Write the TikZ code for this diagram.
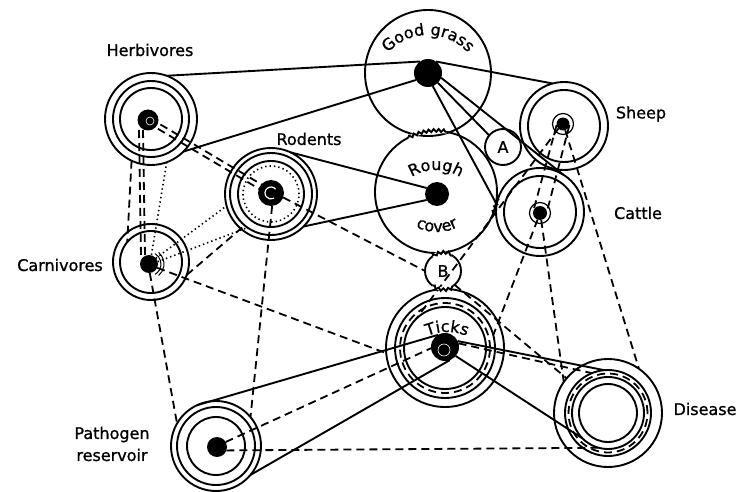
\documentclass[tikz,border=0pt]{standalone}
\usepackage{fontspec}
\newfontfamily\lab[FakeBold=1]{DejaVu Sans}
\usetikzlibrary{calc,decorations.text,decorations.pathmorphing}
\pgfdeclarelayer{back}
\pgfdeclarelayer{bg}
\pgfsetlayers{back,bg,main}
\begin{document}
\begin{tikzpicture}[x=1pt,y=1pt,
  every node/.style={inner sep=0pt, outer sep=0pt},
  ring/.style={circle, draw, line width=1.9pt, minimum size=#1},
  thinring/.style={circle, draw, line width=1.2pt, minimum size=#1},
  dotn/.style={circle, fill=black, minimum size=#1},
  belt/.style={line width=1.9pt},
  dsh/.style={line width=1.8pt, dash pattern=on 8pt off 5pt},
  dtt/.style={line width=1.6pt, dash pattern=on 1.4pt off 3pt},
  lbl/.style={font=\lab\fontsize{16}{22}\selectfont, align=center},
  gear/.style={line width=1.9pt, decorate, decoration={snake, amplitude=1.4pt, segment length=5pt}},
]
\useasboundingbox (0,0) rectangle (739,-492);
\begin{pgfonlayer}{back}
\fill[white] (0,0) rectangle (739,-492);
\end{pgfonlayer}

% Good grass and rough cover
\node[ring=126pt] (gg) at (428,-73) {};
\node[dotn=28pt] (ggd) at (428,-73) {};
\node[ring=122pt] (rc) at (436,-192) {};
\node[dotn=24pt] (rcd) at (437,-194) {};
\node[ring=36pt, lbl] (A) at (503,-147) {A};
\node[ring=36pt, lbl] (B) at (443,-271) {B};

% Sheep and cattle
\node[ring=88pt] (sh) at (564,-126) {};
\node[ring=72pt] (sh2) at (564,-126) {};
\node[thinring=21pt] (shr) at (563,-124) {};
\node[dotn=13pt] (shd) at (563,-124) {};
\node[ring=88pt] (ca) at (540,-212) {};
\node[ring=72pt] (ca2) at (540,-212) {};
\node[thinring=21pt] (car) at (540,-213) {};
\node[dotn=14pt] (cad) at (540,-213) {};

% Herbivores
\node[ring=92pt] (he) at (151,-119) {};
\node[ring=76pt] (he2) at (151,-119) {};
\node[ring=62pt] (he3) at (151,-119) {};
\node[dotn=21pt] (hed) at (148,-120) {};

% Rodents
\node[ring=92pt] (ro) at (271,-194) {};
\node[ring=82pt] (ro2) at (271,-194) {};
\node[ring=66pt] (ro3) at (271,-194) {};
\node[circle, draw, dtt, minimum size=56pt] (ro4) at (271,-194) {};
\node[dotn=26pt] (rod) at (271,-193) {};

% Carnivores
\node[ring=76pt] (cn) at (151,-262) {};
\node[ring=62pt] (cn2) at (151,-262) {};
\node[dotn=18pt] (cnd) at (149,-264) {};

% Ticks
\node[ring=118pt] (ti) at (445,-348) {};
\node[ring=100pt] (ti2) at (445,-348) {};
\node[circle, draw, dsh, minimum size=90pt] (ti4) at (445,-348) {};
\node[ring=82pt] (ti3) at (445,-348) {};
\node[dotn=28pt] (tid) at (445,-347) {};

% Disease
\node[ring=108pt] (di) at (608,-413) {};
\node[ring=86pt] (di2) at (608,-413) {};
\node[circle, draw, dsh, minimum size=79pt] (di5) at (608,-413) {};
\node[ring=72pt] (di3) at (608,-413) {};
\node[ring=58pt] (di4) at (608,-413) {};

% Pathogen reservoir
\node[ring=90pt] (pa) at (216,-446) {};
\node[ring=78pt] (pa2) at (216,-446) {};
\node[ring=58pt] (pa3) at (216,-446) {};
\node[dotn=20pt] (pad) at (217,-447) {};

% gear contacts
\draw[white, line width=3.4pt] (rc.center) ++(117:61pt) arc[start angle=117, end angle=80, radius=61pt];
\draw[gear] (rc.center) ++(117:61pt) arc[start angle=117, end angle=80, radius=61pt];
\draw[white, line width=3.4pt] (B.center) ++(125:18pt) arc[start angle=125, end angle=55, radius=18pt];
\draw[gear] (B.center) ++(125:18pt) arc[start angle=125, end angle=55, radius=18pt];
\draw[white, line width=3.4pt] (B.center) ++(235:18pt) arc[start angle=235, end angle=305, radius=18pt];
\draw[gear] (B.center) ++(235:18pt) arc[start angle=235, end angle=305, radius=18pt];
\draw[gear] (rc.center) ++(-20:61pt) arc[start angle=-20, end angle=-5, radius=61pt];

% labels
\node[lbl] (hlab) at (150,-50) {Herbivores};
\node[lbl] (rlab) at (309,-139) {Rodents};
\node[lbl] (clab) at (60,-265) {Carnivores};
\node[lbl] (slab) at (641,-114) {Sheep};
\node[lbl] (calab) at (638,-213) {Cattle};
\node[lbl] (dlab) at (705,-409) {Disease};
\node[lbl] (plab) at (112,-444) {Pathogen\\reservoir};

\path[decorate, decoration={text along path, text align=center,
  text={|\lab\fontsize{16}{18}\selectfont|Good grass}}]
  (428,-89) ++(160:54pt) arc[start angle=160, end angle=20, radius=54pt];
\path[decorate, decoration={text along path, text align=center,
  text={|\lab\fontsize{16}{18}\selectfont|Rough}}]
  (436,-215) ++(150:45pt) arc[start angle=150, end angle=30, radius=45pt];
\path[decorate, decoration={text along path, text align=center,
  text={|\lab\fontsize{16}{18}\selectfont|cover}}]
  (437,-187) ++(220:45pt) arc[start angle=220, end angle=320, radius=45pt];
\path[decorate, decoration={text along path, text align=center,
  text={|\lab\fontsize{16}{18}\selectfont|Ticks}}]
  (447,-382) ++(140:50pt) arc[start angle=140, end angle=40, radius=50pt];

\begin{pgfonlayer}{bg}
% solid belts
\draw[belt] (ggd.125) -- (he.70);
\draw[belt] (ggd.210) -- (he.-45);
\draw[belt] (ggd.55) -- (sh.105);
\draw[belt] (ggd.-20) -- (ca.58);
\draw[belt] (ggd.-45) -- (A.140);
\draw[belt] (ggd.-70) -- (ca.170);
\draw[belt] (rcd.150) -- (ro.65);
\draw[belt] (rcd.-150) -- (ro.-45);
\draw[belt] (tid.120) -- (pa.115);
\draw[belt] (tid.-70) -- (pa.-40);
\draw[belt] (tid.25) -- (di2.95);
\draw[belt] (tid.-40) -- (di3.225);

% dashed links
\draw[dsh] ($(hed)!2.5pt!90:(rod)$) -- ($(rod)!2.5pt!-90:(hed)$);
\draw[dsh] ($(hed)!2.5pt!-90:(rod)$) -- ($(rod)!2.5pt!90:(hed)$);
\draw[dsh] (rod.-20) -- (B.180);
\draw[dsh] (he.-115) -- (cn2.140);
\draw[dsh] ($(hed)+(-9,-10)$) -- ($(cnd)+(-8,8)$);
\draw[dsh] ($(hed)+(-5,-10)$) -- ($(cnd)+(-4,8)$);
\draw[dsh] (cn.-20) -- (ro2.230);
\draw[dsh] (cnd.-25) -- (ti.185);
\draw[dsh] (cnd.-85) -- (pa.150);
\draw[dsh] (rod.-85) -- (pa.40);
\draw[dsh] (pad.30) -- (tid.185);
\draw[dsh] (pad.-20) -- (di3.-105);
\draw[dsh] (shd.190) -- (cad.170);
\draw[dsh] (shd.-10) -- (cad.10);
\draw[dsh] (shd.225) -- (ti3.135);
\draw[dsh] (shd.-70) -- (di.55);
\draw[dsh] (cad.-80) -- (di.145);
\draw[dsh] (cad.-110) -- (ti2.15);
\draw[dsh] (B.-50) -- (di.140);
\draw[dsh] (tid.15) -- (di2.112);

% dotted links
\draw[dtt] (he.-70) -- (cnd.75);
\draw[dtt] (cnd.40) -- (ro.195);
\draw[dtt] (cnd.15) -- (ro2.235);
\end{pgfonlayer}

% dot details
\draw[white, line width=0.6pt] ($(hed.center)+(2,-1)$) circle[radius=4pt];
\draw[white, line width=1.2pt] (rod.center) ++(40:6pt) arc[start angle=40, end angle=300, radius=6pt];
\draw[line width=1pt] (cnd.center) ++(60:12pt) arc[start angle=60, end angle=-60, radius=12pt];
\draw[line width=1pt] (cnd.center) ++(50:15pt) arc[start angle=50, end angle=-50, radius=15pt];
\draw[white, line width=0.6pt] ($(tid.center)+(-1,-3)$) circle[radius=6pt];
\end{tikzpicture}
\end{document}
